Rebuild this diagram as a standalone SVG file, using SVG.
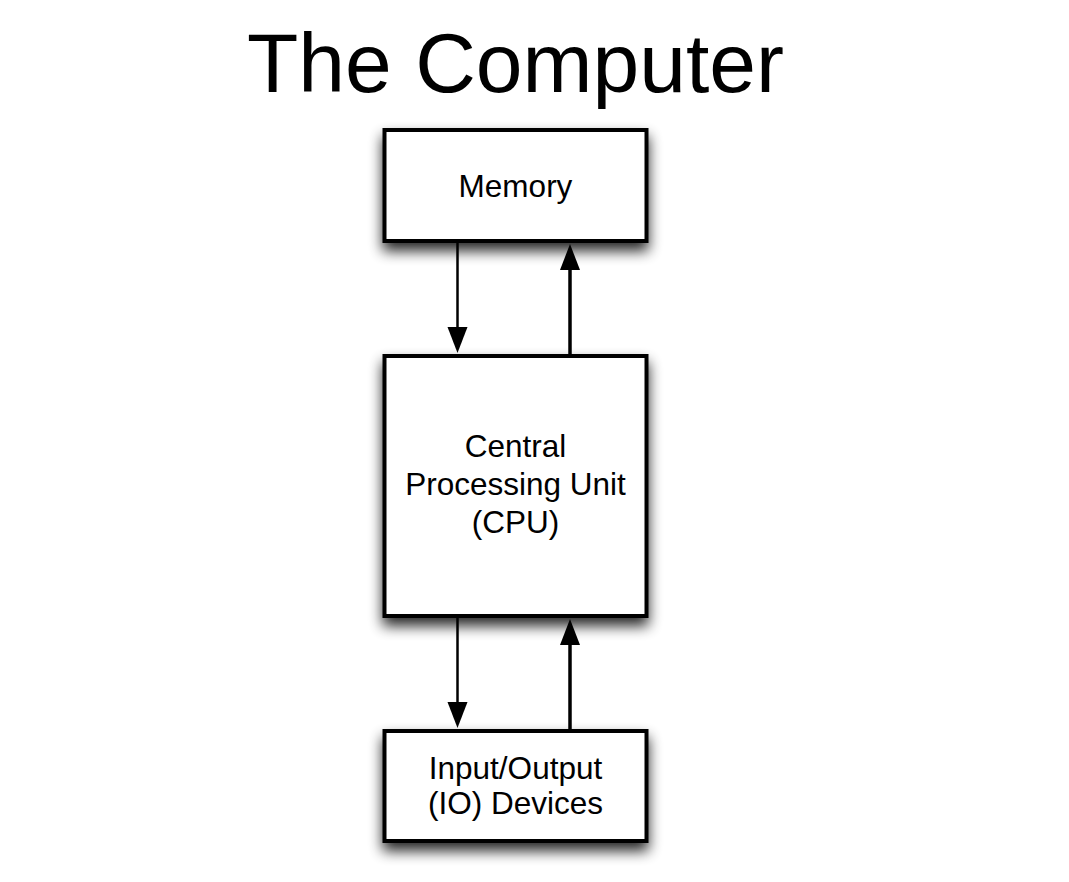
<svg xmlns="http://www.w3.org/2000/svg" width="1069" height="882" viewBox="0 0 1069 882">
<style>
.box{fill:#fff;stroke:#000;stroke-width:4;filter:url(#sh)}
.lbl{font-family:"Liberation Sans",Arial,sans-serif;font-size:31.5px;fill:#000;text-anchor:middle}
.title{font-family:"Liberation Sans",Arial,sans-serif;font-size:84px;fill:#000;text-anchor:middle}
.ln{stroke:#000;fill:none}
</style>
<defs>
<filter id="sh" x="-20%" y="-20%" width="140%" height="150%">
<feGaussianBlur in="SourceAlpha" stdDeviation="7"/>
<feOffset dx="0" dy="8" result="b"/>
<feComponentTransfer><feFuncA type="linear" slope="0.85"/></feComponentTransfer>
<feMerge><feMergeNode/><feMergeNode in="SourceGraphic"/></feMerge>
</filter>
</defs>
<rect width="1069" height="882" fill="#fff"/>
<text class="title" x="515.5" y="92">The Computer</text>
<g id="memory">
<rect class="box" x="384.5" y="130" width="262" height="111"/>
<text class="lbl" x="515.5" y="197">Memory</text>
</g>
<g id="cpu">
<rect class="box" x="384.5" y="356" width="262" height="260"/>
<text class="lbl" x="515.5" y="457">Central</text>
<text class="lbl" x="515.5" y="495">Processing Unit</text>
<text class="lbl" x="515.5" y="533">(CPU)</text>
</g>
<g id="io">
<rect class="box" x="384.5" y="731" width="262" height="110"/>
<text class="lbl" x="515.5" y="779">Input/Output</text>
<text class="lbl" x="515.5" y="814">(IO) Devices</text>
</g>
<g id="connectors">
<line class="ln" x1="457.5" y1="243" x2="457.5" y2="330" stroke-width="2.5"/>
<path d="M447.5,327 L467.5,327 L457.5,353 Z" fill="#000"/>
<line class="ln" x1="570" y1="354" x2="570" y2="268" stroke-width="3.5"/>
<path d="M560,270 L580,270 L570,244 Z" fill="#000"/>
<line class="ln" x1="457.5" y1="618" x2="457.5" y2="705" stroke-width="2.5"/>
<path d="M447.5,702 L467.5,702 L457.5,728 Z" fill="#000"/>
<line class="ln" x1="570" y1="729" x2="570" y2="643" stroke-width="3.5"/>
<path d="M560,645 L580,645 L570,619 Z" fill="#000"/>
</g>
</svg>
